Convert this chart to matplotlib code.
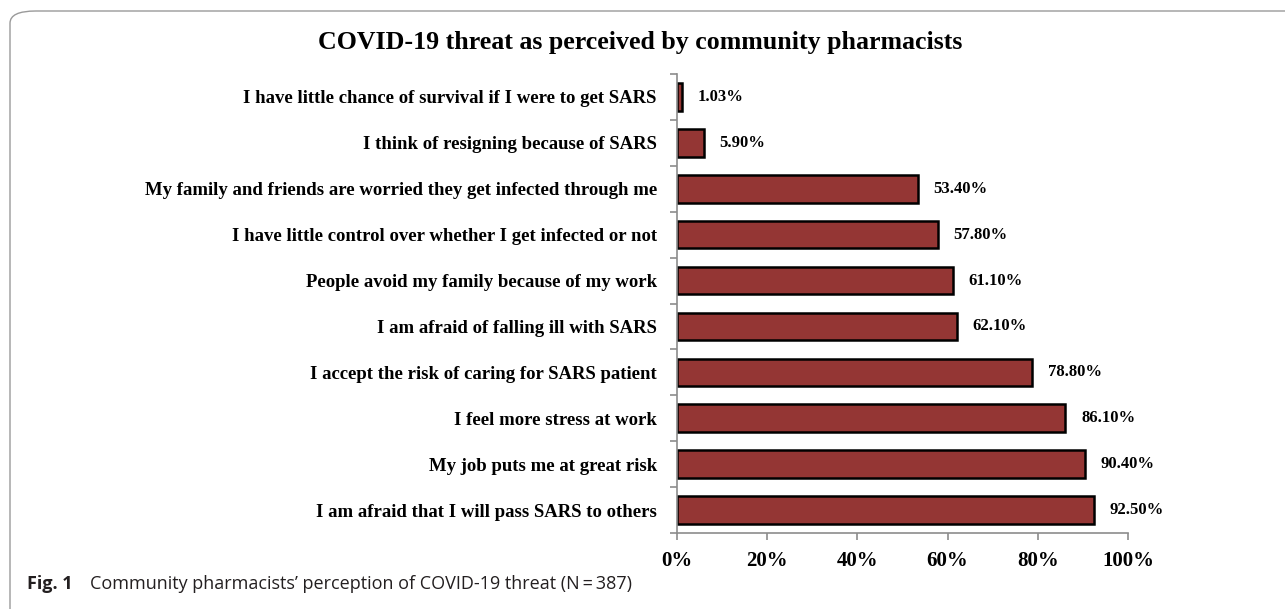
import matplotlib.pyplot as plt
from matplotlib.patches import FancyBboxPatch

categories = [
    "I am afraid that I will pass SARS to others",
    "My job puts me at great risk",
    "I feel more stress at work",
    "I accept the risk of caring for SARS patient",
    "I am afraid of falling ill with SARS",
    "People avoid my family because of my work",
    "I have little control over whether I get infected or not",
    "My family and friends are worried they get infected through me",
    "I think of resigning because of SARS",
    "I have little chance of survival if I were to get SARS",
]
values = [92.5, 90.4, 86.1, 78.8, 62.1, 61.1, 57.8, 53.4, 5.9, 1.03]
value_labels = ["92.50%", "90.40%", "86.10%", "78.80%", "62.10%", "61.10%",
                "57.80%", "53.40%", "5.90%", "1.03%"]
xticks = [0, 20, 40, 60, 80, 100]

serif = ["Liberation Serif", "DejaVu Serif"]
axis_grey = "#8c8c8c"

fig = plt.figure(figsize=(12.85, 6.09), dpi=100)

# rounded frame around the figure
frame = FancyBboxPatch((10 / 1285, -0.1), 1.2, 1.0 - 11 / 609 + 0.1,
                       boxstyle="round,pad=0,rounding_size=0.02",
                       transform=fig.transFigure, fill=False,
                       edgecolor="#9a9a9a", linewidth=1.0)
fig.patches.append(frame)

ax = fig.add_axes([677 / 1285, 76 / 609, (1128 - 677) / 1285, (535 - 76) / 609])
pos = list(range(len(categories)))
ax.barh(pos, values, height=0.6, color="#943634", edgecolor="black", linewidth=1.8)
ax.set_ylim(-0.5, len(categories) - 0.5)
ax.set_xlim(0, 100)

for p, v, lab in zip(pos, values, value_labels):
    ax.text(v + 3.5, p, lab, va="center", ha="left", fontsize=12,
            fontweight="bold", family=serif)

ax.set_yticks(pos)
ax.set_yticklabels(categories, fontsize=13.5, fontweight="bold", family=serif)
ax.set_yticks([p - 0.5 for p in range(len(categories) + 1)], minor=True)
ax.tick_params(axis="y", which="major", length=0, pad=14.5)
ax.tick_params(axis="y", which="minor", length=5, color=axis_grey, width=1.2)

ax.set_xticks(xticks)
ax.set_xticklabels([f"{t}%" for t in xticks], fontsize=15, fontweight="bold", family=serif)
ax.tick_params(axis="x", length=5, color=axis_grey, width=1.2, pad=8)

for s in ["top", "right"]:
    ax.spines[s].set_visible(False)
for s in ["left", "bottom"]:
    ax.spines[s].set_color(axis_grey)
    ax.spines[s].set_linewidth(1.2)

fig.text(640 / 1285, 1 - 42 / 609, "COVID-19 threat as perceived by community pharmacists",
         ha="center", va="center", fontsize=18.6, fontweight="bold", family=serif)

fig.text(27 / 1285, 1 - 584 / 609, "Fig. 1", ha="left", va="center",
         fontsize=13, fontweight="bold", family="Open Sans", color="#231f20")
fig.text(90 / 1285, 1 - 584 / 609,
         "Community pharmacists\u2019 perception of COVID-19 threat (N\u2009=\u2009387)",
         ha="left", va="center", fontsize=13, family="Open Sans", color="#231f20")

fig.savefig("out.png", dpi=100)
